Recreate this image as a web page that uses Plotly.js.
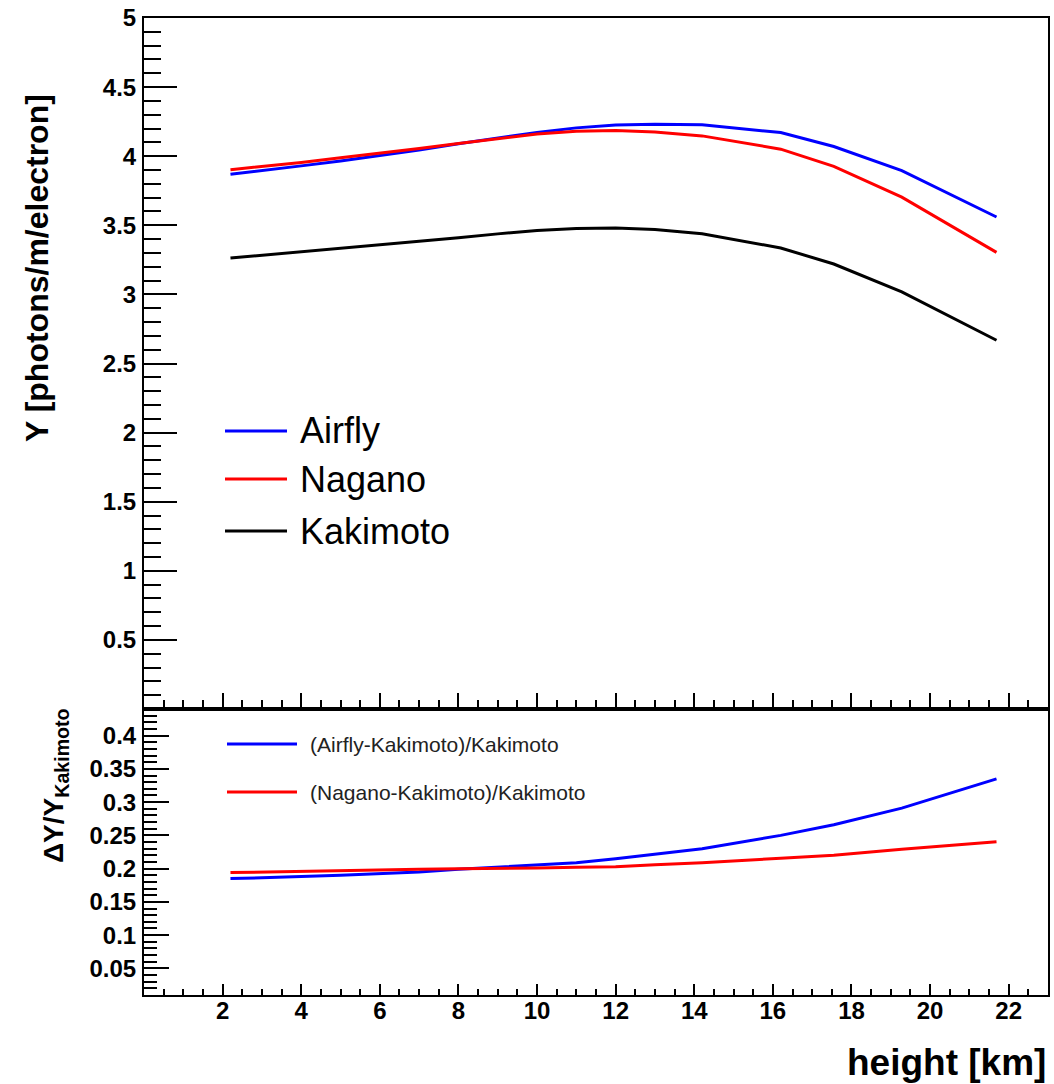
<!DOCTYPE html>
<html>
<head>
<meta charset="utf-8">
<script src="https://cdn.plot.ly/plotly-3.0.1.min.js"></script>
<style>
  html, body { margin: 0; padding: 0; background: #ffffff; }
  #chart { width: 1054px; height: 1084px; }
</style>
</head>
<body>
<div id="chart"></div>
<script>
// Altitude grid of the yield curves [km]
const height = [2.2, 3, 4, 5, 6, 7, 8, 9, 10, 11, 12, 13, 14.2, 16.2, 17.55, 19.28, 21.69];

// Fluorescence yield Y [photons/m/electron]
const yAirfly   = [3.870, 3.895, 3.930, 3.965, 4.003, 4.045, 4.090, 4.133, 4.172, 4.205, 4.225, 4.232, 4.228, 4.171, 4.070, 3.895, 3.560];
const yNagano   = [3.902, 3.925, 3.955, 3.988, 4.020, 4.055, 4.092, 4.128, 4.160, 4.180, 4.186, 4.175, 4.147, 4.051, 3.926, 3.704, 3.304];
const yKakimoto = [3.263, 3.283, 3.308, 3.335, 3.358, 3.380, 3.410, 3.438, 3.462, 3.477, 3.480, 3.470, 3.439, 3.336, 3.220, 3.018, 2.668];

// Relative differences with respect to Kakimoto
const relAirfly = [0.185, 0.186, 0.188, 0.190, 0.192, 0.195, 0.199, 0.202, 0.205, 0.209, 0.215, 0.222, 0.230, 0.250, 0.266, 0.291, 0.335];
const relNagano = [0.194, 0.195, 0.196, 0.197, 0.198, 0.199, 0.200, 0.200, 0.201, 0.202, 0.203, 0.206, 0.209, 0.2155, 0.220, 0.229, 0.2405];

// Series names and colours
const topNames  = ['Airfly', 'Nagano', 'Kakimoto'];
const topColors = ['#0000ff', '#ff0000', '#000000'];
const botNames  = ['(Airfly-Kakimoto)/Kakimoto', '(Nagano-Kakimoto)/Kakimoto'];
const botColors = ['#0000ff', '#ff0000'];

// Labelled tick positions
const xTicks  = [2, 4, 6, 8, 10, 12, 14, 16, 18, 20, 22];
const yTicks  = [0.5, 1, 1.5, 2, 2.5, 3, 3.5, 4, 4.5, 5];
const y2Ticks = [0.05, 0.1, 0.15, 0.2, 0.25, 0.3, 0.35, 0.4];

// Axis labels
const xTitle  = 'height [km]';
const yTitle  = 'Y [photons/m/electron]';
const y2Title = '&#916;Y/Y<sub>Kakimoto</sub>';

const FONT = 'Liberation Sans, Arial, Helvetica, sans-serif';
const W = 1054, H = 1084;
const M = { l: 144, r: 6, t: 18, b: 89 };
const PW = W - M.l - M.r, PH = H - M.t - M.b;
const split = 286 / PH;               // lower pad height fraction
const px = v => (v - M.l) / PW;       // pixel -> paper x
const py = v => (H - M.b - v) / PH;   // pixel -> paper y

const topY = [yAirfly, yNagano, yKakimoto];
const botY = [relAirfly, relNagano];

const traces = [];
topY.forEach((ys, i) => traces.push({
  x: height, y: ys, type: 'scatter', mode: 'lines', name: topNames[i],
  xaxis: 'x', yaxis: 'y', line: { color: topColors[i], width: 3 }, showlegend: false
}));
botY.forEach((ys, i) => traces.push({
  x: height, y: ys, type: 'scatter', mode: 'lines', name: botNames[i],
  xaxis: 'x2', yaxis: 'y2', line: { color: botColors[i], width: 3 }, showlegend: false
}));

const tickFont = { family: FONT, size: 24, color: '#000', weight: 'bold' };
const axisBase = {
  showline: true, linecolor: '#000', linewidth: 2, mirror: true,
  showgrid: false, zeroline: false, ticks: 'inside', tickcolor: '#000', tickwidth: 2,
  tickfont: tickFont, fixedrange: true, tickmode: 'array'
};
const minorTicks = (step, len) => ({
  tickmode: 'linear', tick0: 0, dtick: step, ticklen: len, tickwidth: 2,
  tickcolor: '#000', ticks: 'inside', showgrid: false
});

// Legend boxes drawn as line samples plus text labels
const shapes = [], annotations = [];
const topRows = [431, 479, 531];
topNames.forEach((n, i) => {
  shapes.push({ type: 'line', xref: 'paper', yref: 'paper',
    x0: px(225), x1: px(287), y0: py(topRows[i]), y1: py(topRows[i]),
    line: { color: topColors[i], width: 3 } });
  annotations.push({ text: n, xref: 'paper', yref: 'paper', x: px(298), y: py(topRows[i]),
    xanchor: 'left', yanchor: 'middle', showarrow: false,
    font: { family: FONT, size: 36, color: '#000' } });
});
const botRows = [744, 792];
botNames.forEach((n, i) => {
  shapes.push({ type: 'line', xref: 'paper', yref: 'paper',
    x0: px(227), x1: px(297), y0: py(botRows[i]), y1: py(botRows[i]),
    line: { color: botColors[i], width: 3 } });
  annotations.push({ text: n, xref: 'paper', yref: 'paper', x: px(308), y: py(botRows[i]),
    xanchor: 'left', yanchor: 'middle', showarrow: false,
    font: { family: FONT, size: 21, color: '#222' } });
});

// Axis titles (right/top aligned)
annotations.push({ text: yTitle, xref: 'paper', yref: 'paper', x: px(37), y: py(268),
  xanchor: 'center', yanchor: 'middle', textangle: -90, showarrow: false,
  font: { family: FONT, size: 32, color: '#000', weight: 'bold' } });
annotations.push({ text: y2Title, xref: 'paper', yref: 'paper', x: px(55), y: py(786),
  xanchor: 'center', yanchor: 'middle', textangle: -90, showarrow: false,
  font: { family: FONT, size: 28, color: '#000', weight: 'bold' } });
annotations.push({ text: xTitle, xref: 'paper', yref: 'paper', x: px(1048), y: py(1062),
  xanchor: 'right', yanchor: 'middle', showarrow: false,
  font: { family: FONT, size: 37, color: '#000', weight: 'bold' } });

const layout = {
  width: W, height: H, margin: M,
  paper_bgcolor: '#fff', plot_bgcolor: '#fff',
  showlegend: false,
  xaxis: Object.assign({}, axisBase, {
    domain: [0, 1], anchor: 'y', range: [0, 23], tickvals: xTicks,
    ticklen: 16, showticklabels: false, minor: minorTicks(0.5, 9)
  }),
  yaxis: Object.assign({}, axisBase, {
    domain: [split, 1], anchor: 'x', range: [0, 5], tickvals: yTicks,
    ticklen: 33, ticklabelstandoff: 1, minor: minorTicks(0.1, 17)
  }),
  xaxis2: Object.assign({}, axisBase, {
    domain: [0, 1], anchor: 'y2', range: [0, 23], tickvals: xTicks,
    ticklen: 11, ticklabelstandoff: -7, minor: minorTicks(0.5, 6)
  }),
  yaxis2: Object.assign({}, axisBase, {
    domain: [0, split], anchor: 'x2', range: [0.01, 0.44], tickvals: y2Ticks,
    ticklen: 25, ticklabelstandoff: 1, minor: minorTicks(0.01, 13)
  }),
  shapes: shapes,
  annotations: annotations
};

Plotly.newPlot('chart', traces, layout, { displayModeBar: false, staticPlot: true });
</script>
</body>
</html>
